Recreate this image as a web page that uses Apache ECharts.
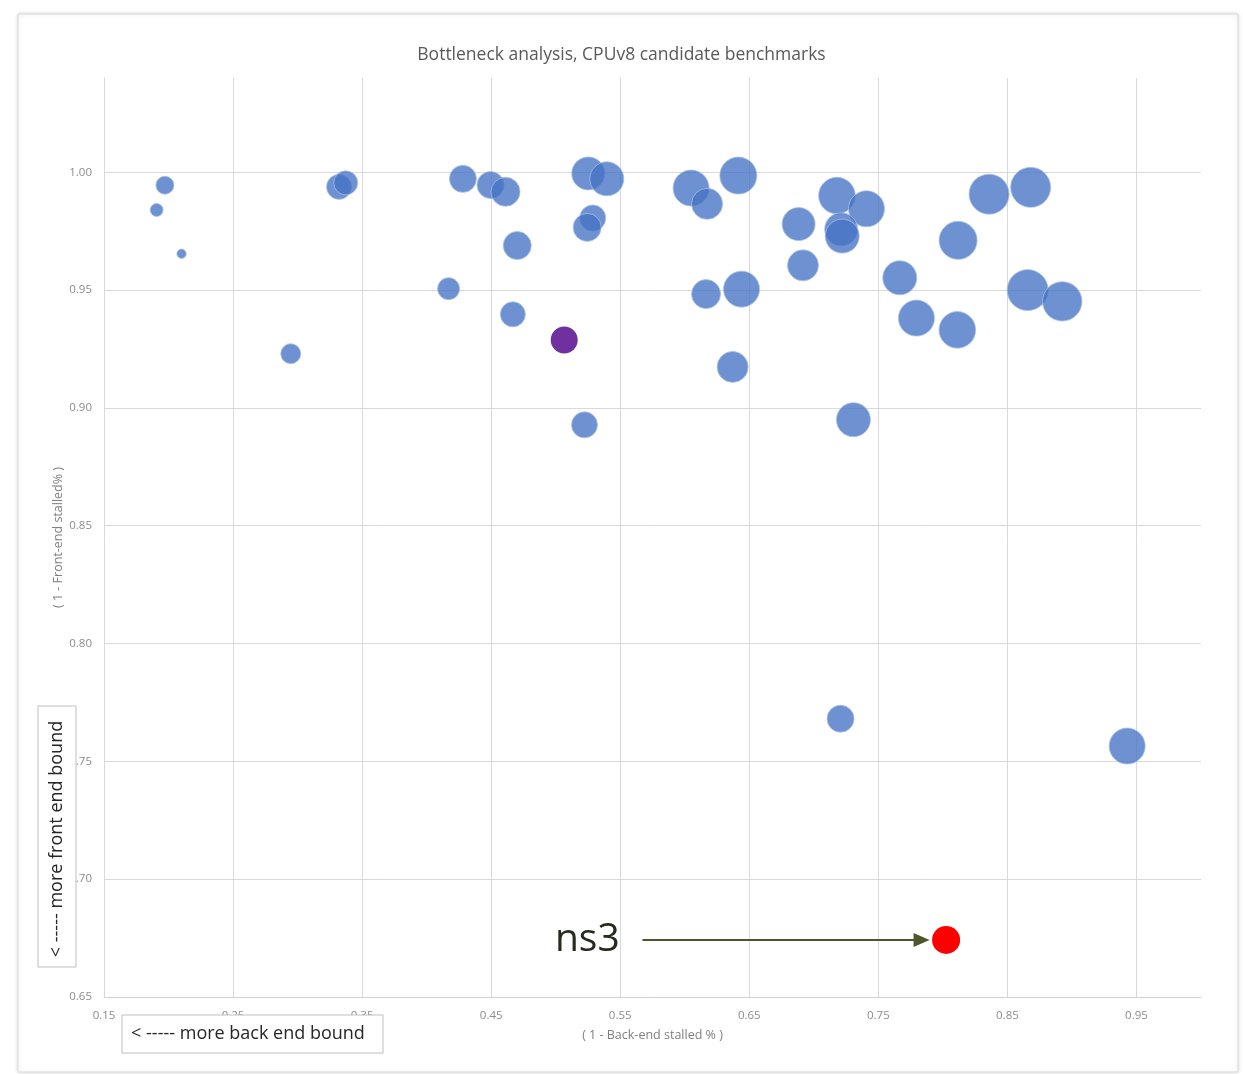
<!DOCTYPE html>
<html>
<head>
<meta charset="utf-8">
<script src="https://cdn.jsdelivr.net/npm/echarts@6/dist/echarts.min.js"></script>
<style>
html,body{margin:0;padding:0;background:#fff;}
#chart{width:1243px;height:1074px;}
</style>
</head>
<body>
<div id="chart"></div>
<script>
// Candidate benchmarks: (1 - back-end stalled), (1 - front-end stalled), bubble weight
const benchX = [0.1972,0.1908,0.2101,0.2947,0.3321,0.3373,0.4281,0.4495,0.4611,0.5252,
  0.5396,0.5287,0.5244,0.4702,0.4170,0.4668,0.5223,0.6049,0.6173,0.6415,
  0.6882,0.7179,0.7408,0.7212,0.7220,0.6916,0.6165,0.6440,0.7666,0.7795,
  0.6371,0.7307,0.8358,0.8680,0.8118,0.8657,0.8925,0.8112,0.7207,0.9428];
const benchY = [0.9945,0.9840,0.9654,0.9230,0.9938,0.9955,0.9972,0.9946,0.9917,0.9995,
  0.9972,0.9806,0.9766,0.9689,0.9506,0.9397,0.8928,0.9933,0.9866,0.9986,
  0.9780,0.9901,0.9845,0.9758,0.9729,0.9605,0.9483,0.9504,0.9552,0.9381,
  0.9174,0.8950,0.9907,0.9936,0.9711,0.9500,0.9452,0.9331,0.7681,0.7565];
const benchSize = [81,42,22,100,156,144,182,182,210,272,
  289,169,196,196,121,156,169,324,240,342,
  272,335,324,272,289,240,210,324,289,324,
  240,289,400,400,361,420,388,335,182,324];
const purplePoint = [0.5066, 0.9288, 182];
const ns3Point = [0.8025, 0.6742, 196];
const ns3Label = 'ns3';
const arrowStart = [0.5672, 0.6742];
const arrowEnd = [0.7835, 0.6742];
const labelAt = [0.5245, 0.6742];

const titleText = 'Bottleneck analysis, CPUv8 candidate benchmarks';
const xName = '( 1 - Back-end stalled % )';
const yName = '( 1 - Front-end stalled% )';
const frontNote = '< ----- more front end bound';
const backNote = '< ----- more back end bound';

const benchData = benchX.map((x, i) => [x, benchY[i], benchSize[i]]);
const sizeFn = d => 2 * Math.sqrt(d[2]);
const FONT = '"Open Sans", sans-serif';

const chart = echarts.init(document.getElementById('chart'));
chart.setOption({
  animation: false,
  title: {
    text: titleText, left: 'center', top: 41,
    textStyle: {fontFamily: FONT, fontSize: 17.5, fontWeight: 'normal', color: '#595959'}
  },
  grid: {left: 104, right: 42, top: 78, bottom: 77, containLabel: false},
  xAxis: {
    type: 'value', min: 0.15, max: 1.0, interval: 0.1,
    name: xName, nameLocation: 'middle', nameGap: 32,
    nameTextStyle: {fontFamily: FONT, fontSize: 12.5, color: '#7f7f7f'},
    axisLine: {show: true, lineStyle: {color: '#d0d0d0', width: 1}},
    axisTick: {show: false},
    axisLabel: {showMaxLabel: false, margin: 13, fontFamily: FONT, fontSize: 11.5, color: '#8c8c8c',
      formatter: v => v.toFixed(2)},
    splitLine: {show: true, showMaxLine: false, lineStyle: {color: '#d9d9d9', width: 1}}
  },
  yAxis: {
    type: 'value', min: 0.65, max: 1.04, interval: 0.05,
    name: yName, nameLocation: 'middle', nameGap: 39, nameRotate: 90, nameMoveOverlap: false,
    nameTextStyle: {fontFamily: FONT, fontSize: 12.5, color: '#7f7f7f'},
    axisLine: {show: true, lineStyle: {color: '#d9d9d9', width: 1}},
    axisTick: {show: false},
    axisLabel: {showMaxLabel: false, margin: 12, fontFamily: FONT, fontSize: 11.5, color: '#8c8c8c',
      formatter: v => v.toFixed(2)},
    splitLine: {show: true, showMaxLine: false, lineStyle: {color: '#d9d9d9', width: 1}}
  },
  series: [
    {
      type: 'scatter', name: 'benchmarks', data: benchData, symbolSize: sizeFn,
      itemStyle: {color: '#4472c4', opacity: 0.78, borderColor: '#a9bfe9', borderWidth: 1}
    },
    {
      type: 'scatter', name: 'highlight', data: [purplePoint], symbolSize: sizeFn,
      itemStyle: {color: '#7030a0', opacity: 1}
    },
    {
      type: 'scatter', name: ns3Label, data: [ns3Point], symbolSize: sizeFn,
      itemStyle: {color: '#ff0000', opacity: 1},
      markLine: {
        silent: true, symbol: ['none', 'triangle'], symbolSize: [14, 16],
        lineStyle: {color: '#4f5628', width: 2, type: 'solid'},
        label: {show: false},
        data: [[{coord: arrowStart}, {coord: arrowEnd}]]
      },
      markPoint: {
        silent: true, symbol: 'circle', symbolSize: 0,
        label: {show: true, formatter: ns3Label, fontFamily: FONT, fontSize: 39,
          color: '#262b1e', position: 'inside'},
        data: [{coord: labelAt}]
      }
    }
  ],
  graphic: [
    {type: 'rect', z: -10, shape: {x: 18, y: 14, width: 1220, height: 1058},
      style: {fill: '#fff', stroke: '#d9d9d9', lineWidth: 1, shadowBlur: 4, shadowColor: 'rgba(0,0,0,0.15)'}},
    {type: 'rect', z: 200, shape: {x: 38, y: 706, width: 38, height: 261},
      style: {fill: '#fff', stroke: '#bfbfbf', lineWidth: 1}},
    {type: 'text', z: 201, x: 57, y: 839, rotation: Math.PI / 2,
      style: {text: frontNote, fontFamily: FONT, fontSize: 18, fill: '#262626', align: 'center', verticalAlign: 'middle'}},
    {type: 'rect', z: 200, shape: {x: 122, y: 1015, width: 261, height: 38},
      style: {fill: '#fff', stroke: '#bfbfbf', lineWidth: 1}},
    {type: 'text', z: 201, x: 248, y: 1034,
      style: {text: backNote, fontFamily: FONT, fontSize: 18, fill: '#262626', align: 'center', verticalAlign: 'middle'}}
  ]
});
</script>
</body>
</html>
